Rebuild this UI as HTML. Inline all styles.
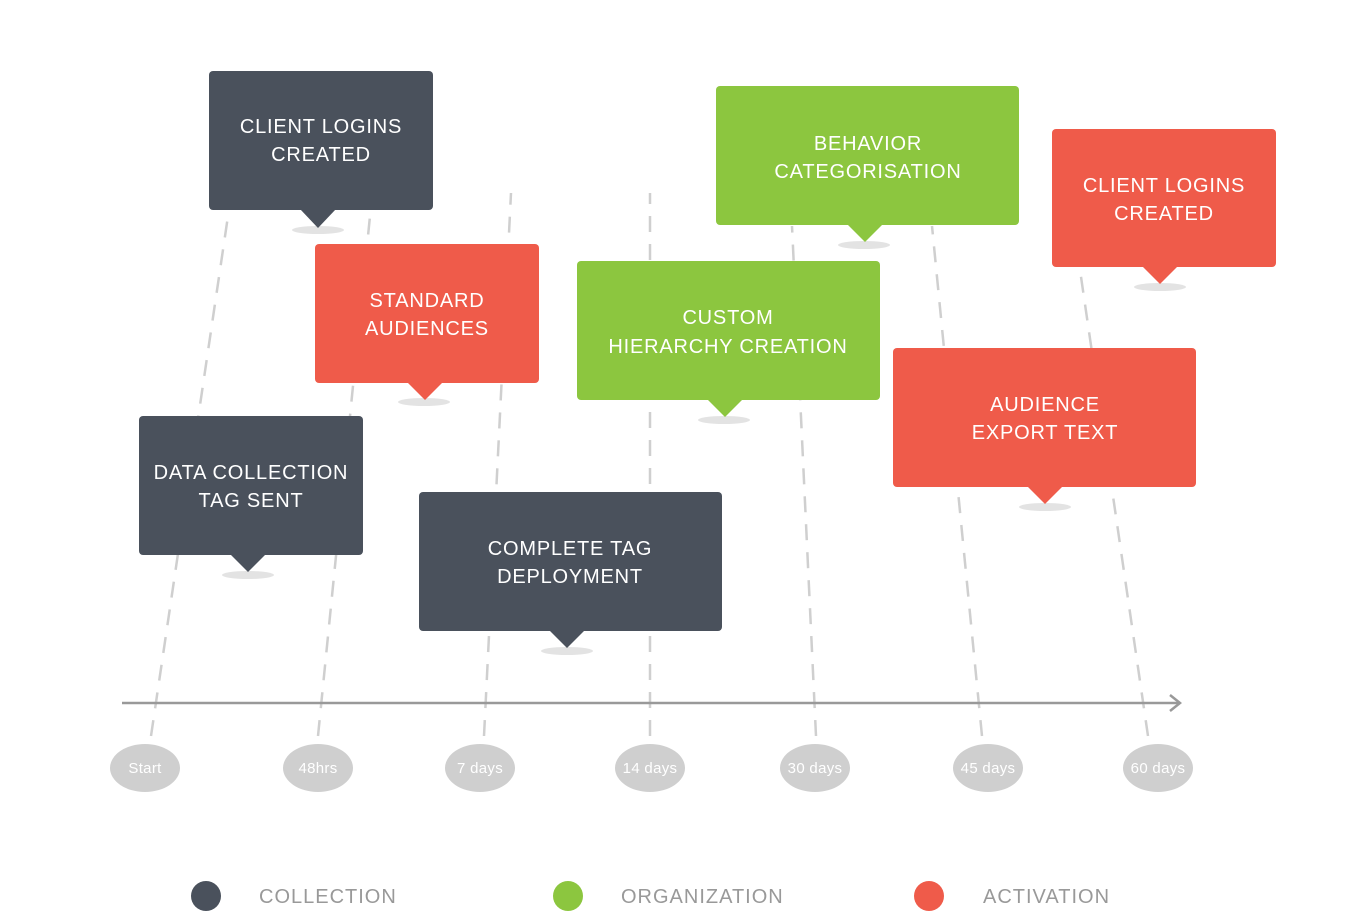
<!DOCTYPE html>
<html><head><style>
body{margin:0;background:#fff;}
svg text{font-family:"Liberation Sans",sans-serif;}
</style></head><body>
<svg width="1350" height="916" viewBox="0 0 1350 916" xmlns="http://www.w3.org/2000/svg">
<g stroke="#cfcfcf" stroke-width="2.5" stroke-dasharray="16,12" fill="none">
<line x1="151" y1="736" x2="228" y2="216"/>
<line x1="318" y1="736" x2="370" y2="216"/>
<line x1="484" y1="736" x2="511" y2="193"/>
<line x1="650" y1="736" x2="650" y2="193"/>
<line x1="816" y1="736" x2="792" y2="226"/>
<line x1="982" y1="736" x2="932" y2="226"/>
<line x1="1148" y1="736" x2="1080" y2="270"/>
</g>
<line x1="122" y1="703" x2="1179" y2="703" stroke="#999" stroke-width="2.5"/>
<polyline points="1170,695 1180,703 1170,711" fill="none" stroke="#999" stroke-width="2.5"/>
<g fill="#e3e3e3">
<ellipse cx="318" cy="230" rx="26" ry="4"/>
<ellipse cx="424" cy="402" rx="26" ry="4"/>
<ellipse cx="248" cy="575" rx="26" ry="4"/>
<ellipse cx="567" cy="651" rx="26" ry="4"/>
<ellipse cx="724" cy="420" rx="26" ry="4"/>
<ellipse cx="864" cy="245" rx="26" ry="4"/>
<ellipse cx="1160" cy="287" rx="26" ry="4"/>
<ellipse cx="1045" cy="507" rx="26" ry="4"/>
</g>
<g font-size="20" fill="#fff" text-anchor="middle" letter-spacing="0.8">
<rect x="209" y="71" width="224" height="139" rx="4" fill="#4a515c"/>
<polygon points="300,209 336,209 318,228" fill="#4a515c"/>
<text x="321" y="133">CLIENT LOGINS</text><text x="321" y="161">CREATED</text>

<rect x="315" y="244" width="224" height="139" rx="4" fill="#ef5b4a"/>
<polygon points="407,382 443,382 425,400" fill="#ef5b4a"/>
<text x="427" y="307">STANDARD</text><text x="427" y="335">AUDIENCES</text>

<rect x="139" y="416" width="224" height="139" rx="4" fill="#4a515c"/>
<polygon points="230,554 266,554 248,572" fill="#4a515c"/>
<text x="251" y="479">DATA COLLECTION</text><text x="251" y="507">TAG SENT</text>

<rect x="419" y="492" width="303" height="139" rx="4" fill="#4a515c"/>
<polygon points="549,630 585,630 567,648" fill="#4a515c"/>
<text x="570" y="555">COMPLETE TAG</text><text x="570" y="583">DEPLOYMENT</text>

<rect x="577" y="261" width="303" height="139" rx="4" fill="#8cc63f"/>
<polygon points="707,399 743,399 725,417" fill="#8cc63f"/>
<text x="728" y="324">CUSTOM</text><text x="728" y="353">HIERARCHY CREATION</text>

<rect x="716" y="86" width="303" height="139" rx="4" fill="#8cc63f"/>
<polygon points="847,224 883,224 865,242" fill="#8cc63f"/>
<text x="868" y="150">BEHAVIOR</text><text x="868" y="178">CATEGORISATION</text>

<rect x="1052" y="129" width="224" height="138" rx="4" fill="#ef5b4a"/>
<polygon points="1142,266 1178,266 1160,284" fill="#ef5b4a"/>
<text x="1164" y="192">CLIENT LOGINS</text><text x="1164" y="220">CREATED</text>

<rect x="893" y="348" width="303" height="139" rx="4" fill="#ef5b4a"/>
<polygon points="1027,486 1063,486 1045,504" fill="#ef5b4a"/>
<text x="1045" y="411">AUDIENCE</text><text x="1045" y="439">EXPORT TEXT</text>
</g>
<g fill="#cfcfcf">
<ellipse cx="145" cy="768" rx="35" ry="24"/>
<ellipse cx="318" cy="768" rx="35" ry="24"/>
<ellipse cx="480" cy="768" rx="35" ry="24"/>
<ellipse cx="650" cy="768" rx="35" ry="24"/>
<ellipse cx="815" cy="768" rx="35" ry="24"/>
<ellipse cx="988" cy="768" rx="35" ry="24"/>
<ellipse cx="1158" cy="768" rx="35" ry="24"/>
</g>
<g font-size="15" fill="#fff" text-anchor="middle" letter-spacing="0.3">
<text x="145" y="773">Start</text>
<text x="318" y="773">48hrs</text>
<text x="480" y="773">7 days</text>
<text x="650" y="773">14 days</text>
<text x="815" y="773">30 days</text>
<text x="988" y="773">45 days</text>
<text x="1158" y="773">60 days</text>
</g>
<circle cx="206" cy="896" r="15" fill="#4a515c"/>
<circle cx="568" cy="896" r="15" fill="#8cc63f"/>
<circle cx="929" cy="896" r="15" fill="#ef5b4a"/>
<g font-size="20" fill="#999" letter-spacing="1">
<text x="259" y="903">COLLECTION</text>
<text x="621" y="903">ORGANIZATION</text>
<text x="983" y="903">ACTIVATION</text>
</g>
</svg>
</body></html>
